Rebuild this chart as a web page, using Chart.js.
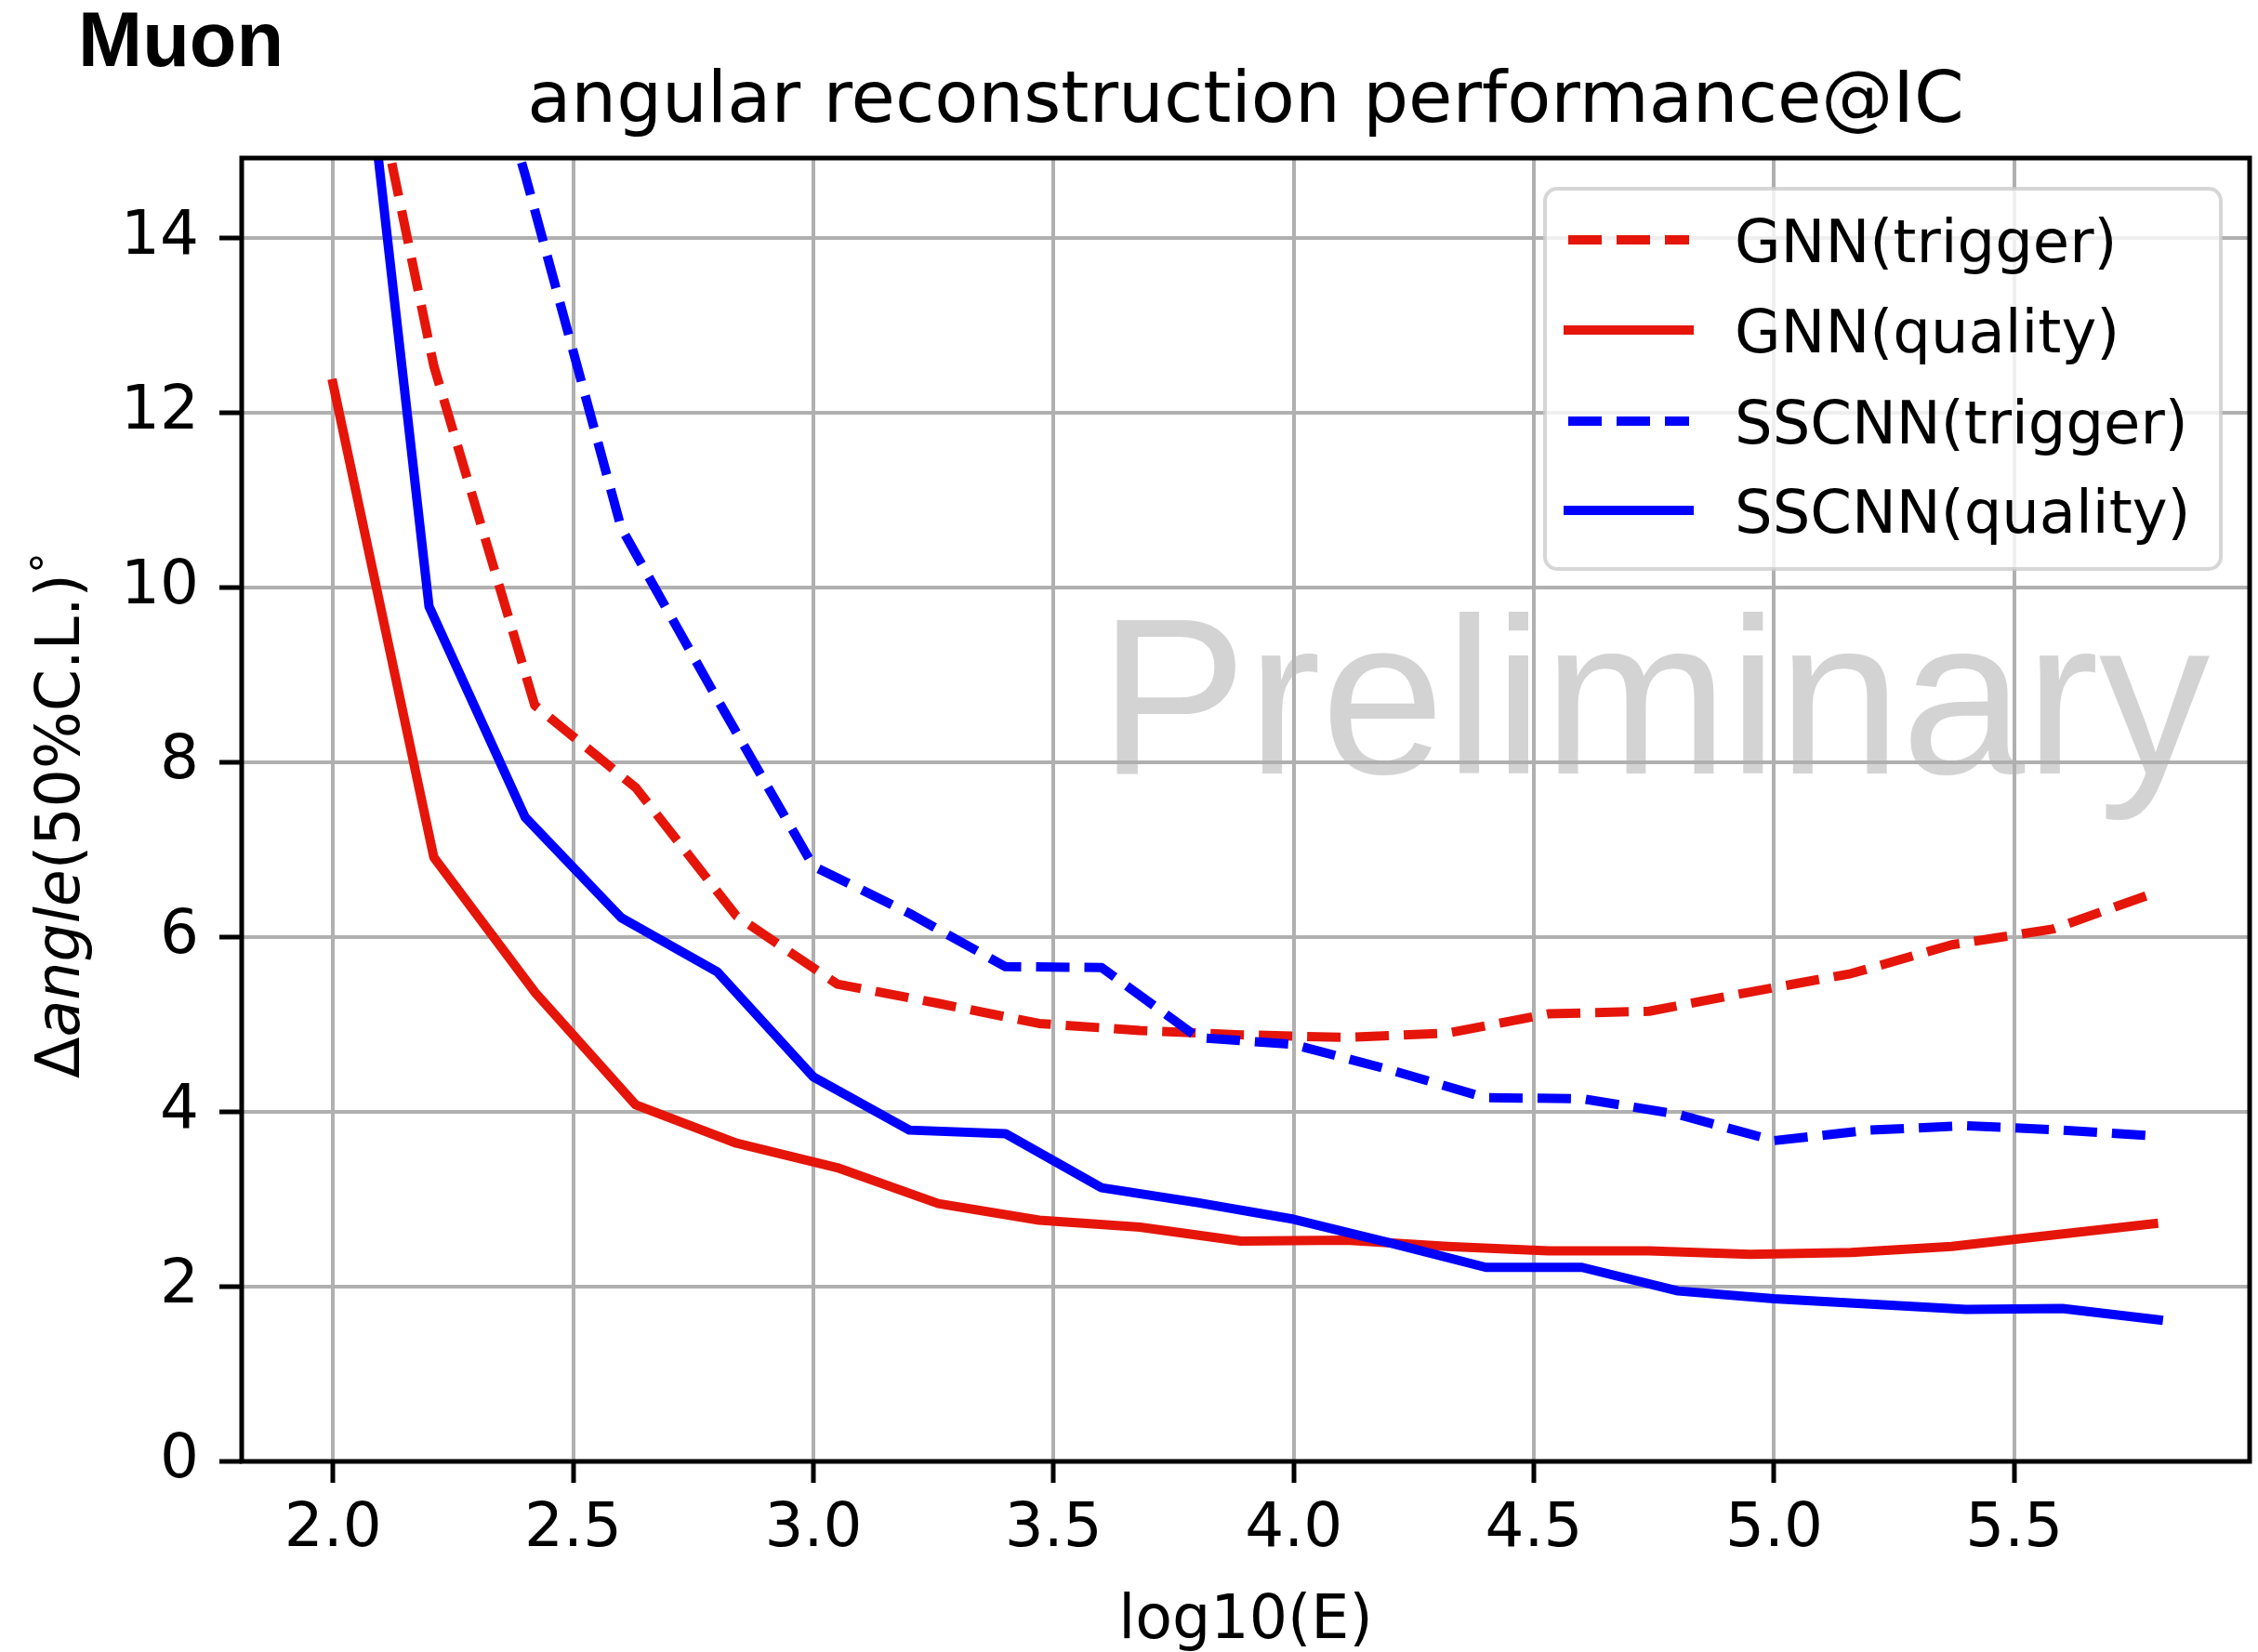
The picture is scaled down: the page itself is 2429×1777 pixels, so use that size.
<!DOCTYPE html>
<html>
<head>
<meta charset="utf-8">
<title>angular reconstruction performance@IC</title>
<script src="https://cdn.jsdelivr.net/npm/chart.js@4.4.1/dist/chart.umd.min.js"></script>
<style>
  html, body { margin: 0; padding: 0; background: #ffffff; }
  canvas { display: block; }
</style>
</head>
<body>
<canvas id="chart" width="2429" height="1777"></canvas>
<script>
// log10(E) bin centres for each reconstruction
const gnnEnergy = [2.00, 2.21, 2.42, 2.63, 2.84, 3.05, 3.26, 3.47, 3.68, 3.89,
                   4.11, 4.32, 4.53, 4.74, 4.95, 5.16, 5.37, 5.58, 5.79];
const sscnnEnergy = [2.0, 2.2, 2.4, 2.6, 2.8, 3.0, 3.2, 3.4, 3.6, 3.8,
                     4.0, 4.2, 4.4, 4.6, 4.8, 5.0, 5.2, 5.4, 5.6, 5.8];

// 50% containment angle in degrees
const gnnTrigger = [18.1, 12.53, 8.65, 7.71, 6.24, 5.46, 5.24, 5.01, 4.93, 4.88,
                    4.85, 4.90, 5.12, 5.15, 5.37, 5.58, 5.91, 6.09, 6.50];
const gnnQuality = [12.33, 6.91, 5.37, 4.08, 3.64, 3.36, 2.95, 2.76, 2.68, 2.52,
                    2.53, 2.46, 2.41, 2.41, 2.37, 2.39, 2.46, 2.59, 2.72];
const sscnnTrigger = [24.0, 18.5, 14.72, 10.68, 8.72, 6.81, 6.27, 5.66, 5.65, 4.85,
                      4.77, 4.48, 4.16, 4.15, 3.97, 3.67, 3.79, 3.84, 3.79, 3.72];
const sscnnQuality = [19.5, 9.78, 7.37, 6.22, 5.60, 4.40, 3.79, 3.75, 3.13, 2.96,
                      2.77, 2.50, 2.22, 2.22, 1.95, 1.86, 1.80, 1.74, 1.75, 1.62];

const xTickValues = [2.0, 2.5, 3.0, 3.5, 4.0, 4.5, 5.0, 5.5];
const yTickValues = [0, 2, 4, 6, 8, 10, 12, 14];
const seriesNames = ['GNN(trigger)', 'GNN(quality)', 'SSCNN(trigger)', 'SSCNN(quality)'];

const RED = '#e5150a';
const BLUE = '#0000ff';
const FONT = "'DejaVu Sans', sans-serif";
const DASH = [36, 16];

function toPoints(xs, ys) {
  return xs.map((x, i) => ({ x: x, y: ys[i] }));
}

function lineSet(label, xs, ys, color, dashed, order) {
  return {
    label: label,
    data: toPoints(xs, ys),
    borderColor: color,
    backgroundColor: color,
    borderWidth: 10,
    borderDash: dashed ? DASH : [],
    borderCapStyle: dashed ? 'butt' : 'square',
    borderJoinStyle: 'round',
    pointRadius: 0,
    tension: 0,
    fill: false,
    clip: 0,
    order: order
  };
}

// Text, frame and legend drawn around the plotting area
const decorations = {
  id: 'decorations',
  beforeDraw(chart) {
    const ctx = chart.ctx;
    ctx.save();
    ctx.fillStyle = '#ffffff';
    ctx.fillRect(0, 0, chart.width, chart.height);
    // watermark sits beneath the grid
    ctx.fillStyle = '#d3d3d3';
    ctx.font = "239px 'Liberation Sans', Arial, sans-serif";
    ctx.textAlign = 'left';
    ctx.textBaseline = 'alphabetic';
    ctx.fillText('Preliminary', 1182, 832);
    ctx.restore();
  },
  afterDatasetsDraw(chart) {
    const ctx = chart.ctx;
    const a = chart.chartArea;
    ctx.save();
    ctx.strokeStyle = '#000000';
    ctx.lineWidth = 5;
    ctx.lineJoin = 'miter';
    ctx.strokeRect(a.left, a.top, a.right - a.left, a.bottom - a.top);
    ctx.restore();
  },
  afterDraw(chart) {
    const ctx = chart.ctx;
    const a = chart.chartArea;
    ctx.save();
    ctx.fillStyle = '#000000';
    ctx.textBaseline = 'alphabetic';

    // corner tag
    ctx.font = "bold 83px 'Liberation Sans', Arial, sans-serif";
    ctx.textAlign = 'left';
    ctx.fillText('Muon', 84, 71);

    // title
    ctx.font = '77px ' + FONT;
    ctx.textAlign = 'center';
    ctx.fillText('angular reconstruction performance@IC', (a.left + a.right) / 2, 131);

    // x axis title
    ctx.font = '65px ' + FONT;
    ctx.fillText('log10(E)', (a.left + a.right) / 2, 1762);

    // y axis title with italic "angle" and a raised degree sign
    const size = 65;
    const parts = [
      { t: '\u0394', font: size + 'px ' + FONT, dy: 0 },
      { t: 'angle', font: 'italic ' + size + 'px ' + FONT, dy: 0 },
      { t: '(50%C.L.)', font: size + 'px ' + FONT, dy: 0 },
      { t: '\u00b0', font: Math.round(size * 0.7) + 'px ' + FONT, dy: -0.3 * size }
    ];
    let total = 0;
    parts.forEach(p => { ctx.font = p.font; p.w = ctx.measureText(p.t).width; total += p.w; });
    ctx.translate(85, (a.top + a.bottom) / 2 + 6);
    ctx.rotate(-Math.PI / 2);
    ctx.textAlign = 'left';
    let cx = -total / 2;
    parts.forEach(p => { ctx.font = p.font; ctx.fillText(p.t, cx, p.dy); cx += p.w; });
    ctx.setTransform(1, 0, 0, 1, 0, 0);
    ctx.restore();

    // legend
    ctx.save();
    const box = { x: 1662, y: 203, w: 727, h: 409, r: 13 };
    ctx.beginPath();
    ctx.roundRect(box.x, box.y, box.w, box.h, box.r);
    ctx.fillStyle = 'rgba(255,255,255,0.8)';
    ctx.fill();
    ctx.lineWidth = 4;
    ctx.strokeStyle = 'rgba(204,204,204,0.8)';
    ctx.stroke();

    const rows = [258, 355, 453, 549];
    chart.data.datasets.forEach((ds, k) => {
      const y = rows[k];
      ctx.beginPath();
      ctx.moveTo(1687, y);
      ctx.lineTo(1817, y);
      ctx.strokeStyle = ds.borderColor;
      ctx.lineWidth = ds.borderWidth;
      ctx.setLineDash(ds.borderDash);
      ctx.lineCap = ds.borderCapStyle;
      ctx.stroke();
      ctx.setLineDash([]);
      ctx.fillStyle = '#000000';
      ctx.font = '64px ' + FONT;
      ctx.textAlign = 'left';
      ctx.textBaseline = 'alphabetic';
      ctx.fillText(ds.label, 1866, y + 24);
    });
    ctx.restore();
  }
};

const tickFont = { family: 'DejaVu Sans', size: 66 };

new Chart(document.getElementById('chart'), {
  type: 'line',
  data: {
    datasets: [
      lineSet(seriesNames[0], gnnEnergy, gnnTrigger, RED, true, 4),
      lineSet(seriesNames[1], gnnEnergy, gnnQuality, RED, false, 3),
      lineSet(seriesNames[2], sscnnEnergy, sscnnTrigger, BLUE, true, 2),
      lineSet(seriesNames[3], sscnnEnergy, sscnnQuality, BLUE, false, 1)
    ]
  },
  options: {
    responsive: false,
    animation: false,
    devicePixelRatio: 1,
    layout: { padding: { top: 170, right: 9, bottom: 0, left: 0 } },
    plugins: {
      legend: { display: false },
      tooltip: { enabled: false },
      title: { display: false }
    },
    scales: {
      x: {
        type: 'linear',
        min: 1.81,
        max: 5.99,
        afterBuildTicks: s => { s.ticks = xTickValues.map(v => ({ value: v })); },
        afterFit: s => { s.height = 205; },
        border: { display: false },
        grid: { color: '#b0b0b0', lineWidth: 4, drawTicks: true, tickLength: 23, tickColor: '#000000', tickWidth: 5 },
        ticks: { font: tickFont, color: '#000000', padding: 11, maxRotation: 0, autoSkip: false,
                 callback: v => Number(v).toFixed(1) }
      },
      y: {
        type: 'linear',
        min: 0,
        max: 14.91,
        afterBuildTicks: s => { s.ticks = yTickValues.map(v => ({ value: v })); },
        afterFit: s => { s.width = 260; },
        border: { display: false },
        grid: { color: '#b0b0b0', lineWidth: 4, drawTicks: true, tickLength: 24, tickColor: '#000000', tickWidth: 5 },
        ticks: { font: tickFont, color: '#000000', padding: 22, autoSkip: false,
                 callback: v => String(v) }
      }
    }
  },
  plugins: [decorations]
});
</script>
</body>
</html>
